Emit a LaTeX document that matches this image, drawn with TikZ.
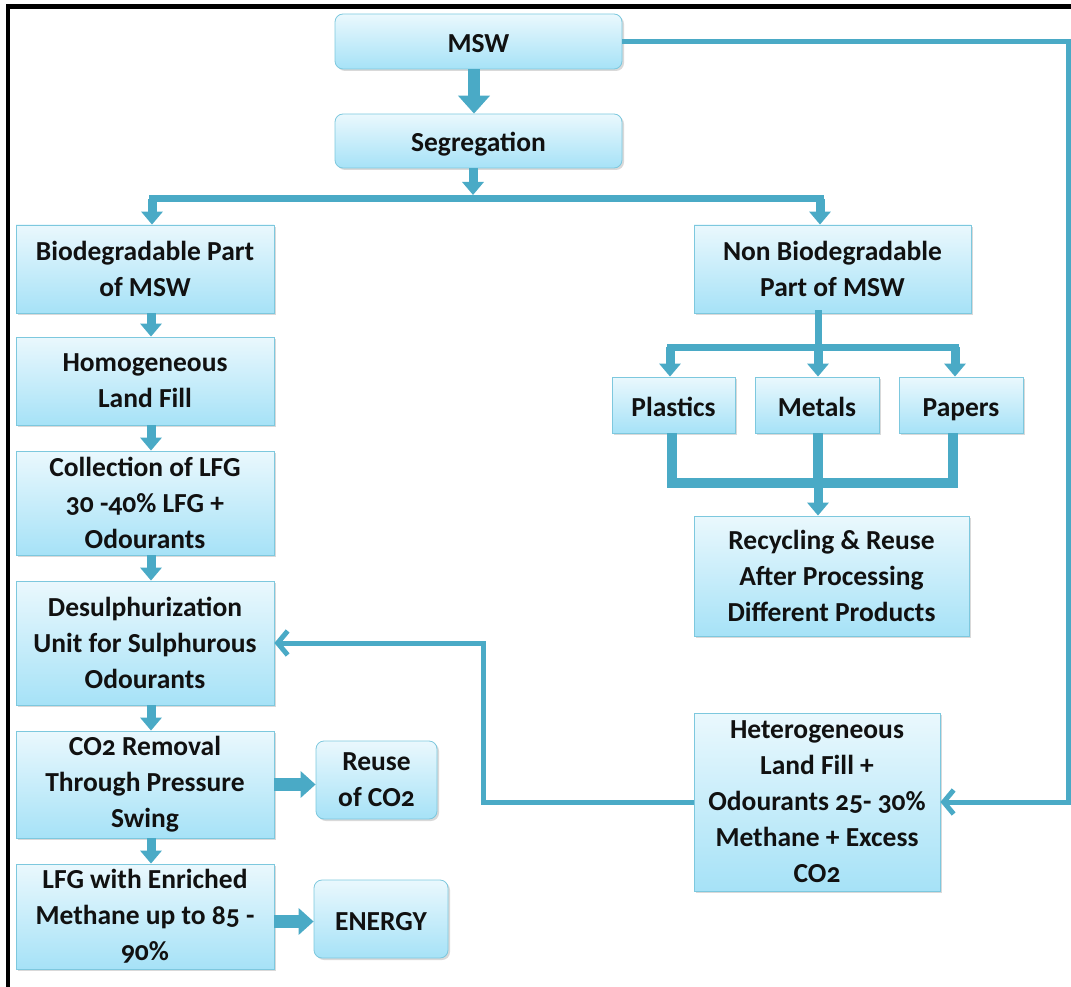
\documentclass[tikz,border=0pt]{standalone}
\usepackage{fontspec}
\setmainfont{Carlito}[Numbers=OldStyle]
\usetikzlibrary{arrows.meta,shadows}
\definecolor{ln}{HTML}{4AAAC6}
\definecolor{ftop}{HTML}{EAF8FD}
\definecolor{fbot}{HTML}{A6E2F7}
\definecolor{bd}{HTML}{7DC8DE}
\definecolor{txt}{HTML}{111111}
\tikzset{
  box/.style={draw=bd, line width=0.8pt, top color=ftop, bottom color=fbot,
    align=center, text=txt, font=\bfseries\fontsize{27.5}{36}\selectfont, inner sep=0pt,
    drop shadow={opacity=0.3, shadow xshift=2pt, shadow yshift=-2pt}},
  rbox/.style={box, rounded corners=8pt},
  oneline/.style={text height=24pt, text depth=2pt},
  bigarr/.style={draw=ln, line width=12pt, -{Triangle[width=31pt,length=18pt]}},
  sarr/.style={draw=ln, line width=9pt, -{Triangle[width=21pt,length=13pt]}},
  harr/.style={draw=ln, line width=13pt, -{Triangle[width=26pt,length=15pt]}},
  barline/.style={draw=ln, line width=7pt, line cap=rect, line join=miter},
  thickbar/.style={draw=ln, line width=10pt, line join=miter},
  fb/.style={draw=ln, line width=5pt, line join=miter, -{Straight Barb[length=10pt,width=24pt]}}
}
\begin{document}
\begin{tikzpicture}[x=1pt,y=-1pt]
\useasboundingbox (0,0) rectangle (1071,987);
\fill[black] (6,4) rectangle (10,987);
\fill[black] (6,4) rectangle (1071,9);

% nodes
\node[rbox, oneline, minimum width=287pt, minimum height=55pt] (msw) at (478.5,41.5) {MSW};
\node[rbox, oneline, minimum width=287pt, minimum height=54pt] (seg) at (478.5,141) {Segregation};
\node[box, minimum width=258pt, minimum height=88pt] (bio) at (145,269) {Biodegradable Part\\of MSW};
\node[box, minimum width=258pt, minimum height=88pt] (homo) at (145,381) {Homogeneous\\Land Fill};
\node[box, minimum width=258pt, minimum height=104pt] (coll) at (145,503) {Collection of LFG\\30 -40\% LFG +\\Odourants};
\node[box, minimum width=258pt, minimum height=124pt] (desul) at (145,643) {Desulphurization\\Unit for Sulphurous\\Odourants};
\node[box, minimum width=258pt, minimum height=107pt] (co2r) at (145,784.5) {CO2 Removal\\Through Pressure\\Swing};
\node[box, minimum width=258pt, minimum height=105pt] (lfge) at (145,916.5) {LFG with Enriched\\Methane up to 85 -\\90\%};
\node[rbox, minimum width=121pt, minimum height=78pt] (reuse) at (376.5,780) {Reuse\\of CO2};
\node[rbox, oneline, minimum width=134pt, minimum height=78pt] (energy) at (381,919) {ENERGY};
\node[box, minimum width=277pt, minimum height=88pt] (nonbio) at (832.5,269) {Non Biodegradable\\Part of MSW};
\node[box, oneline, minimum width=123pt, minimum height=56pt] (plastics) at (673.5,405) {Plastics};
\node[box, oneline, minimum width=124pt, minimum height=56pt] (metals) at (817,405) {Metals};
\node[box, oneline, minimum width=124pt, minimum height=56pt] (papers) at (961,405) {Papers};
\node[box, minimum width=275pt, minimum height=120pt] (recyc) at (831.5,576) {Recycling \& Reuse\\After Processing\\Different Products};
\node[box, minimum width=246pt, minimum height=178pt] (hetero) at (817,802) {Heterogeneous\\Land Fill +\\Odourants 25- 30\%\\Methane + Excess\\CO2};

% coordinates
\coordinate (barM) at (473,195);
\coordinate (barL) at (152,199);
\coordinate (barR) at (820,199);
\coordinate (nbM) at (818,347);
\coordinate (nbL) at (670,347);
\coordinate (nbR) at (955,347);
\coordinate (rbL) at (672,483);
\coordinate (rbM) at (818,483);
\coordinate (rbR) at (953,483);
\coordinate (fr) at (1068,0);
\coordinate (fl) at (483,0);

% top
\draw[bigarr] ([xshift=-4.5pt]msw.south) -- ([xshift=-4.5pt]seg.north);
\draw[sarr] ([xshift=-5.5pt]seg.south) -- (barM);
\draw[barline] (barL) -- (barR);
\draw[sarr] (barL) -- (bio.north -| barL);
\draw[sarr] (barR) -- (nonbio.north -| barR);

% left chain
\draw[sarr] ([xshift=6pt]bio.south) -- ([xshift=6pt]homo.north);
\draw[sarr] ([xshift=6pt]homo.south) -- ([xshift=6pt]coll.north);
\draw[sarr] ([xshift=6pt]coll.south) -- ([xshift=6pt]desul.north);
\draw[sarr] ([xshift=6pt]desul.south) -- ([xshift=6pt]co2r.north);
\draw[sarr] ([xshift=6pt]co2r.south) -- ([xshift=6pt]lfge.north);
\draw[harr] (co2r.east) -- (co2r.east -| reuse.west);
\draw[harr] ([yshift=-5pt]lfge.east) -- ([yshift=-5pt]lfge.east -| energy.west);

% non-biodegradable split
\draw[barline] (nonbio.south -| nbM) -- (nbM);
\draw[barline] (nbL) -- (nbR);
\draw[sarr] (nbL) -- (plastics.north -| nbL);
\draw[sarr] (nbM) -- (metals.north -| nbM);
\draw[sarr] (nbR) -- (papers.north -| nbR);

% merge to recycling
\draw[thickbar] (plastics.south -| rbL) -- (rbL) -- (rbR) -- (papers.south -| rbR);
\draw[thickbar] (metals.south -| rbM) -- (rbM);
\draw[sarr] ([yshift=5pt]rbM) -- (recyc.north -| rbM);

% feedback lines
\draw[fb] (msw.east) -- (msw.east -| fr) -- (hetero.east -| fr) -- (hetero.east);
\draw[fb] (hetero.west) -- (hetero.west -| fl) -- (desul.east -| fl) -- (desul.east);
\end{tikzpicture}
\end{document}
